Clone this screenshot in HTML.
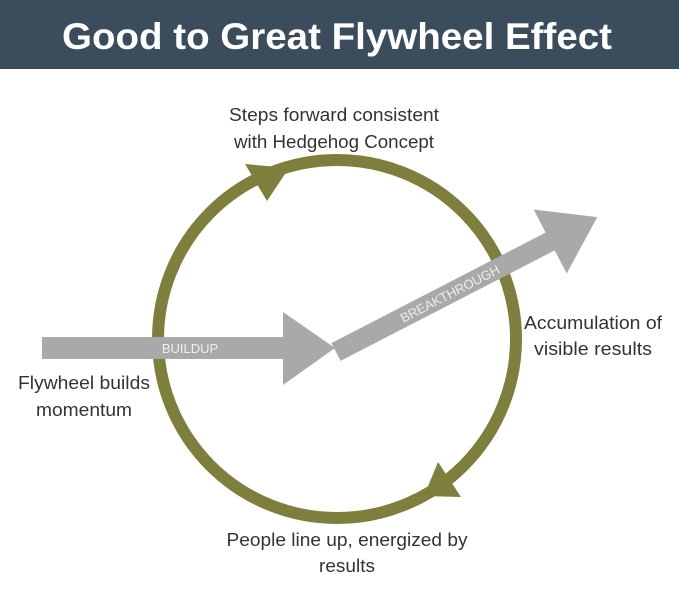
<!DOCTYPE html>
<html><head><meta charset="utf-8">
<style>
html,body{margin:0;padding:0;background:#fff;}
svg{display:block;}
</style></head>
<body>
<svg width="679" height="590" viewBox="0 0 679 590" xmlns="http://www.w3.org/2000/svg" font-family="Liberation Sans, Arial, sans-serif">
  <rect x="0" y="0" width="679" height="69" fill="#3b4c5d"/>
  <text x="337" y="49" text-anchor="middle" font-size="37" font-weight="bold" fill="#ffffff" textLength="550" lengthAdjust="spacingAndGlyphs">Good to Great Flywheel Effect</text>

  <circle cx="337" cy="339" r="179" fill="none" stroke="#7f7f3d" stroke-width="12"/>
  <polygon points="245,164 289,168 267,201" fill="#7f7f3d"/>
  <polygon points="438,462 461,497 424,496" fill="#7f7f3d"/>

  <rect x="42" y="337" width="242" height="22" fill="#a9a9a9"/>
  <polygon points="283,312 335,348 283,385" fill="#a9a9a9"/>
  <text x="190" y="353" text-anchor="middle" font-size="13" fill="#eeeeee">BUILDUP</text>

  <g transform="translate(336,352) rotate(-27.3)">
    <rect x="0" y="-10" width="243" height="20" fill="#a9a9a9"/>
    <polygon points="241,-36 294,0 241,36" fill="#a9a9a9"/>
    <text x="128" y="5" text-anchor="middle" font-size="13" fill="#eeeeee">BREAKTHROUGH</text>
  </g>

  <g font-size="18.5" fill="#333333" text-anchor="middle" lengthAdjust="spacingAndGlyphs">
    <text x="334" y="121" textLength="210" lengthAdjust="spacingAndGlyphs">Steps forward consistent</text>
    <text x="334" y="148" textLength="200" lengthAdjust="spacingAndGlyphs">with Hedgehog Concept</text>
    <text x="593" y="329" textLength="138" lengthAdjust="spacingAndGlyphs">Accumulation of</text>
    <text x="593" y="355" textLength="118" lengthAdjust="spacingAndGlyphs">visible results</text>
    <text x="84" y="389" textLength="132" lengthAdjust="spacingAndGlyphs">Flywheel builds</text>
    <text x="84" y="416" textLength="96" lengthAdjust="spacingAndGlyphs">momentum</text>
    <text x="347" y="546" textLength="241" lengthAdjust="spacingAndGlyphs">People line up, energized by</text>
    <text x="347" y="572" textLength="56" lengthAdjust="spacingAndGlyphs">results</text>
  </g>
</svg>
</body></html>
